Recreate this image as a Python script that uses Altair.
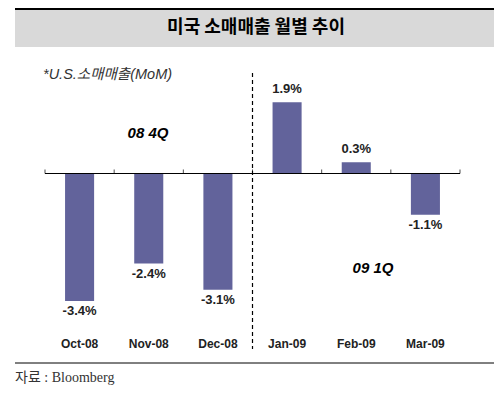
import altair as alt
import pandas as pd

months = ["Oct-08", "Nov-08", "Dec-08", "Jan-09", "Feb-09", "Mar-09"]
values = [-3.4, -2.4, -3.1, 1.9, 0.3, -1.1]
value_labels = ["-3.4%", "-2.4%", "-3.1%", "1.9%", "0.3%", "-1.1%"]

title_text = "미국 소매매출 월별 추이"
note_text = "*U.S.소매매출(MoM)"
q1_text = "08 4Q"
q2_text = "09 1Q"
source_text = "자료 : Bloomberg"

df = pd.DataFrame({"month": months, "value": values, "label": value_labels})
one = pd.DataFrame({"k": [0]})

W, H = 486, 381
BAR = "#62639b"
TXT = "#222222"
SANS = "Liberation Sans"
KR = "Noto Sans CJK KR"

xscale = alt.Scale(domain=months, range=[37, 452], paddingInner=0, paddingOuter=0)
yscale = alt.Scale(domain=[-4, 2.5], range=[315.5, 71.75])
xaxis = alt.Axis(orient="bottom", domain=False, ticks=False, tickSize=0, labelPadding=0,
                 labelBaseline="middle", offset=-46, labelFont=SANS, labelFontWeight="bold",
                 labelFontSize=12, labelColor=TXT, labelAngle=0, title=None, grid=False)


def X(**kw):
    return alt.X("month:N", sort=months, scale=xscale, axis=xaxis, **kw)


def Y(field="value:Q"):
    return alt.Y(field, scale=yscale, axis=None)


base = alt.Chart(df)

bars = base.mark_bar(width=alt.RelativeBandSize(0.42), color=BAR).encode(
    x=X(), y=Y(), y2=alt.datum(0)
)

zero_line = alt.Chart(one).mark_rule(color="black", strokeWidth=1).encode(
    x=alt.value(37), x2=alt.value(452), y=alt.Y(datum=0, scale=yscale, axis=None)
)

ticks = base.mark_tick(orient="vertical", size=4, thickness=1, color="black", yOffset=-2).encode(
    x=X(bandPosition=0), y=alt.Y(datum=0, scale=yscale, axis=None)
)
last_tick = base.transform_filter(alt.datum.month == months[-1]).mark_tick(
    orient="vertical", size=4, thickness=1, color="black", yOffset=-2
).encode(x=X(bandPosition=1), y=alt.Y(datum=0, scale=yscale, axis=None))

divider = base.transform_filter(alt.datum.month == "Jan-09").mark_rule(
    color="black", strokeWidth=1.2, strokeDash=[4, 3]
).encode(x=X(bandPosition=0), y=alt.value(65), y2=alt.value(341))

neg_labels = base.transform_filter(alt.datum.value < 0).mark_text(
    baseline="top", dy=4, font=SANS, fontSize=13, fontWeight="bold", color=TXT
).encode(x=X(), y=Y(), text="label:N")

pos_labels = base.transform_filter(alt.datum.value >= 0).mark_text(
    baseline="alphabetic", dy=-9, font=SANS, fontSize=13, fontWeight="bold", color=TXT
).encode(x=X(), y=Y(), text="label:N")

top_bar = alt.Chart(one).mark_rect(color="black").encode(
    x=alt.value(7), x2=alt.value(486), y=alt.value(0), y2=alt.value(2)
)
band = alt.Chart(one).mark_rect(color="#d9d9d9").encode(
    x=alt.value(7), x2=alt.value(486), y=alt.value(2), y2=alt.value(39)
)
title = alt.Chart(one).mark_text(
    text=title_text, font=KR, fontSize=18, fontWeight="bold", color="black",
    align="center", baseline="middle"
).encode(x=alt.value(248), y=alt.value(20))

note = alt.Chart(one).mark_text(
    text=note_text, font=SANS + ", " + KR, fontSize=14.5, fontStyle="italic", color="#333",
    align="left", baseline="middle"
).encode(x=alt.value(35), y=alt.value(67))

q1 = alt.Chart(one).mark_text(
    text=q1_text, font=SANS, fontSize=15, fontStyle="italic", fontWeight="bold", color="black",
    align="center", baseline="middle"
).encode(x=alt.value(140), y=alt.value(125))

q2 = alt.Chart(one).mark_text(
    text=q2_text, font=SANS, fontSize=15, fontStyle="italic", fontWeight="bold", color="black",
    align="center", baseline="middle"
).encode(x=alt.value(365), y=alt.value(260))

bottom_line = alt.Chart(one).mark_rule(color="black", strokeWidth=1).encode(
    x=alt.value(7), x2=alt.value(486), y=alt.value(355)
)

source = alt.Chart(one).mark_text(
    text=source_text, font="Liberation Serif, " + KR, fontSize=14, color="#333",
    align="left", baseline="middle"
).encode(x=alt.value(7), y=alt.value(370))

chart = alt.layer(
    top_bar, band, title, note, q1, q2, bars, zero_line, ticks, last_tick, divider,
    neg_labels, pos_labels, bottom_line, source
).properties(
    width=W, height=H, padding=0, autosize=alt.AutoSizeParams(type="none"),
    background="white"
).configure_view(stroke=None)

chart.save("out.html", embed_options={"renderer": "svg", "actions": False})
